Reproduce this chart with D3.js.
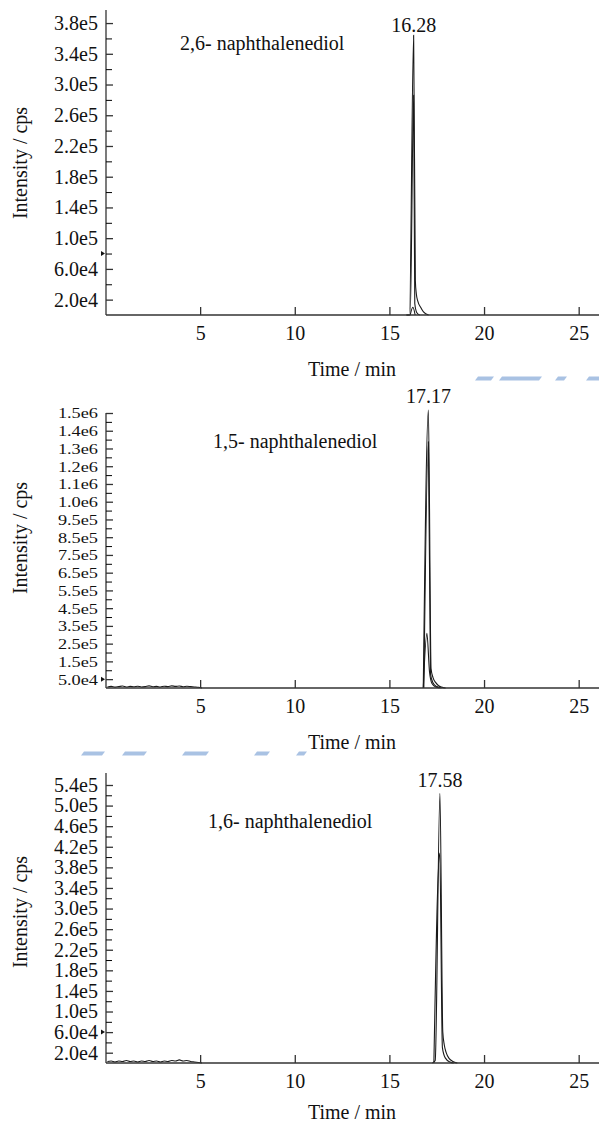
<!DOCTYPE html>
<html>
<head>
<meta charset="utf-8">
<script src="https://cdn.jsdelivr.net/npm/d3@7"></script>
<style>
  body { margin: 0; background: #fff; }
  svg text { font-family: "Liberation Serif", "Times New Roman", serif; fill: #111; }
</style>
</head>
<body>
<svg id="chart"></svg>
<script>
// shared x axis (retention time, min)
const timeTicks = [5, 10, 15, 20, 25];
const timeMax = 26.1;

// panel 1: 2,6-naphthalenediol
const p1Title = "2,6- naphthalenediol";
const p1Rt = "16.28";
const p1YMax = 3.97e5;
const p1YTicks = [2e4, 6e4, 1e5, 1.4e5, 1.8e5, 2.2e5, 2.6e5, 3.0e5, 3.4e5, 3.8e5];
const p1YLabels = ["2.0e4", "6.0e4", "1.0e5", "1.4e5", "1.8e5", "2.2e5", "2.6e5", "3.0e5", "3.4e5", "3.8e5"];
const p1Minor = [4e4, 8e4, 1.2e5, 1.6e5, 2.0e5, 2.4e5, 2.8e5, 3.2e5, 3.6e5];
const p1Marker = 8e4;
const p1TraceA = [[15.9, 0], [16.06, 0], [16.28, 3.64e5], [16.37, 4.5e4], [16.42, 2.8e4], [16.5, 1.8e4], [16.65, 1e4], [16.8, 4e3], [17.07, 0]];
const p1TraceB = [[15.9, 0], [16.1, 0], [16.28, 2.86e5], [16.34, 1.5e4], [16.45, 3e3], [16.6, 0]];
const p1TraceC = [[16.1, 0], [16.24, 1e4], [16.36, 0]];

// panel 2: 1,5-naphthalenediol
const p2Title = "1,5- naphthalenediol";
const p2Rt = "17.17";
const p2YMax = 1.55e6;
const p2YTicks = [5e4, 1.5e5, 2.5e5, 3.5e5, 4.5e5, 5.5e5, 6.5e5, 7.5e5, 8.5e5, 9.5e5, 1.05e6, 1.15e6, 1.25e6, 1.35e6, 1.45e6, 1.55e6];
const p2YLabels = ["5.0e4", "1.5e5", "2.5e5", "3.5e5", "4.5e5", "5.5e5", "6.5e5", "7.5e5", "8.5e5", "9.5e5", "1.0e6", "1.1e6", "1.2e6", "1.3e6", "1.4e6", "1.5e6"];
const p2Minor = [1e5, 2e5, 3e5, 4e5, 5e5, 6e5, 7e5, 8e5, 9e5, 1e6, 1.1e6, 1.2e6, 1.3e6, 1.4e6, 1.5e6];
const p2Marker = 5e4;
const p2Noise = [[0.1, 6e3], [0.3, 9e3], [0.5, 5e3], [0.7, 8e3], [0.9, 1.1e4], [1.1, 6e3], [1.3, 9e3], [1.5, 7e3], [1.7, 1e4], [1.9, 6e3], [2.1, 8e3], [2.3, 1.2e4], [2.5, 7e3], [2.7, 9e3], [2.9, 6e3], [3.1, 1e4], [3.3, 8e3], [3.5, 1.2e4], [3.7, 9e3], [3.9, 1.1e4], [4.1, 7e3], [4.3, 1e4], [4.5, 8e3], [4.7, 6e3], [4.9, 4e3], [5.1, 0]];
const p2TraceA = [[16.79, 0], [17.06, 1.567e6], [17.2, 1.1e5], [17.3, 6e4], [17.45, 3e4], [17.6, 1.3e4], [17.75, 5e3], [17.97, 0]];
const p2TraceB = [[16.82, 0], [17.06, 1.388e6], [17.17, 8e4], [17.3, 3e4], [17.5, 8e3], [17.75, 0]];
const p2TraceC = [[16.79, 0], [16.98, 3.08e5], [17.12, 9e4], [17.25, 2.5e4], [17.45, 5e3], [17.65, 0]];

// panel 3: 1,6-naphthalenediol
const p3Title = "1,6- naphthalenediol";
const p3Rt = "17.58";
const p3YMax = 5.633e5;
const p3YTicks = [2e4, 6e4, 1e5, 1.4e5, 1.8e5, 2.2e5, 2.6e5, 3.0e5, 3.4e5, 3.8e5, 4.2e5, 4.6e5, 5.0e5, 5.4e5];
const p3YLabels = ["2.0e4", "6.0e4", "1.0e5", "1.4e5", "1.8e5", "2.2e5", "2.6e5", "3.0e5", "3.4e5", "3.8e5", "4.2e5", "4.6e5", "5.0e5", "5.4e5"];
const p3Minor = [4e4, 8e4, 1.2e5, 1.6e5, 2.0e5, 2.4e5, 2.8e5, 3.2e5, 3.6e5, 4.0e5, 4.4e5, 4.8e5, 5.2e5];
const p3Marker = 6e4;
const p3Noise = [[0.1, 3e3], [0.3, 4e3], [0.5, 2e3], [0.7, 4e3], [0.9, 3e3], [1.1, 5e3], [1.3, 3e3], [1.5, 4e3], [1.7, 2e3], [1.9, 4e3], [2.1, 3e3], [2.3, 5e3], [2.5, 3e3], [2.7, 4e3], [2.9, 2e3], [3.1, 4e3], [3.3, 3e3], [3.5, 5e3], [3.7, 4e3], [3.9, 6e3], [4.1, 4e3], [4.3, 5e3], [4.5, 3e3], [4.7, 2e3], [4.9, 1e3], [5.1, 0]];
const p3TraceA = [[17.27, 0], [17.42, 5e3], [17.67, 5.24e5], [17.82, 6e4], [17.9, 3.5e4], [18.0, 2e4], [18.15, 9e3], [18.35, 3e3], [18.59, 0]];
const p3TraceB = [[17.35, 0], [17.66, 4.08e5], [17.8, 3e4], [17.95, 1e4], [18.2, 2e3], [18.4, 0]];

// page layout (pixels)
const W = 599, H = 1128, FS = 20;
const panels = [
  { title: p1Title, rt: p1Rt, yMax: p1YMax, yTicks: p1YTicks, yLabels: p1YLabels, minor: p1Minor, marker: p1Marker,
    traces: [p1TraceA, p1TraceB, p1TraceC], tickFs: 20, tickStretch: 1,
    top: 10, bottom: 315, titleX: 180, titleY: 50, rtY: 32, yTitleY: 163, xTitleY: 376 },
  { title: p2Title, rt: p2Rt, yMax: p2YMax, yTicks: p2YTicks, yLabels: p2YLabels, minor: p2Minor, marker: p2Marker,
    traces: [p2Noise, p2TraceA, p2TraceB, p2TraceC], tickFs: 15.5, tickStretch: 1.18,
    top: 413, bottom: 688, titleX: 213, titleY: 448, rtY: 403, yTitleY: 538, xTitleY: 749 },
  { title: p3Title, rt: p3Rt, yMax: p3YMax, yTicks: p3YTicks, yLabels: p3YLabels, minor: p3Minor, marker: p3Marker,
    traces: [p3Noise, p3TraceA, p3TraceB], tickFs: 20, tickStretch: 1,
    top: 773, bottom: 1063, titleX: 208, titleY: 828, rtY: 787, yTitleY: 912, xTitleY: 1119 }
];

// stray light-blue page marks visible in the scan
const blueMarks = [
  { y: 376.5, segs: [[476, 492], [500, 540], [556, 565], [587, 600]] },
  { y: 751.5, segs: [[82, 103], [123, 145], [183, 207], [255, 268], [297, 305]] }
];

const svg = d3.select("#chart").attr("width", W).attr("height", H);
svg.append("rect").attr("width", W).attr("height", H).attr("fill", "#fff");

const x = d3.scaleLinear().domain([0, timeMax]).range([105.5, 599.5]);
const axisX = 106;

panels.forEach((p) => {
  const y = d3.scaleLinear().domain([0, p.yMax]).range([p.bottom, p.top]);
  const g = svg.append("g");

  // traces
  const line = d3.line().x((d) => x(d[0])).y((d) => y(d[1])).curve(d3.curveMonotoneX);
  p.traces.forEach((t) => {
    g.append("path")
      .attr("d", line(t))
      .attr("fill", "none")
      .attr("stroke", "#1a1a1a")
      .attr("stroke-width", 1.1);
  });

  // y axis: major ticks with labels, minor ticks, inward
  const yAxis = g.append("g")
    .attr("transform", `translate(${axisX},0)`)
    .call(d3.axisLeft(y)
      .tickValues(p.yTicks)
      .tickFormat((d, i) => p.yLabels[i])
      .tickSizeInner(-7)
      .tickSizeOuter(0)
      .tickPadding(8));
  yAxis.select(".domain").attr("d", `M0,${p.top}V${p.bottom}`);
  yAxis.selectAll("text")
    .style("font-size", p.tickFs + "px")
    .attr("transform", `scale(${p.tickStretch},1)`)
    .attr("x", -8 / p.tickStretch);

  g.append("g")
    .attr("transform", `translate(${axisX},0)`)
    .call(d3.axisLeft(y).tickValues(p.minor).tickFormat("").tickSizeInner(-6).tickSizeOuter(0))
    .call((a) => a.select(".domain").remove());

  // threshold marker
  const my = y(p.marker);
  g.append("path")
    .attr("d", `M${axisX - 5},${my - 2.5}L${axisX - 1},${my}L${axisX - 5},${my + 2.5}Z`)
    .attr("fill", "#111");

  // x axis
  const xAxis = g.append("g")
    .attr("transform", `translate(0,${p.bottom})`)
    .call(d3.axisBottom(x)
      .tickValues(timeTicks)
      .tickFormat(d3.format("d"))
      .tickSizeInner(-8)
      .tickSizeOuter(0)
      .tickPadding(11));
  xAxis.select(".domain").attr("d", `M${axisX},0H${W}`);
  xAxis.selectAll("text").style("font-size", FS + "px");

  [yAxis, xAxis].forEach((a) => {
    a.selectAll(".domain, line").attr("stroke", "#333").attr("stroke-width", 1.3);
  });

  // texts
  g.append("text")
    .attr("x", p.titleX).attr("y", p.titleY)
    .style("font-size", FS + "px")
    .text(p.title);

  // retention time label sits over the tallest point of the panel
  const peak = d3.greatest(p.traces.flat(), (d) => d[1]);
  g.append("text")
    .attr("x", x(peak[0])).attr("y", p.rtY)
    .attr("text-anchor", "middle")
    .style("font-size", FS + "px")
    .text(p.rt);

  g.append("text")
    .attr("transform", `translate(20,${p.yTitleY}) rotate(-90)`)
    .attr("text-anchor", "middle")
    .attr("dy", "0.35em")
    .style("font-size", FS + "px")
    .text("Intensity / cps");

  g.append("text")
    .attr("x", 352).attr("y", p.xTitleY)
    .attr("text-anchor", "middle")
    .style("font-size", FS + "px")
    .text("Time / min");
});

blueMarks.forEach((row) => {
  row.segs.forEach((s) => {
    svg.append("path")
      .attr("d", `M${s[0] + 2},${row.y}L${s[1] + 2},${row.y}L${s[1] - 1},${row.y + 4}L${s[0] - 1},${row.y + 4}Z`)
      .attr("fill", "#a9c2e3");
  });
});
</script>
</body>
</html>
